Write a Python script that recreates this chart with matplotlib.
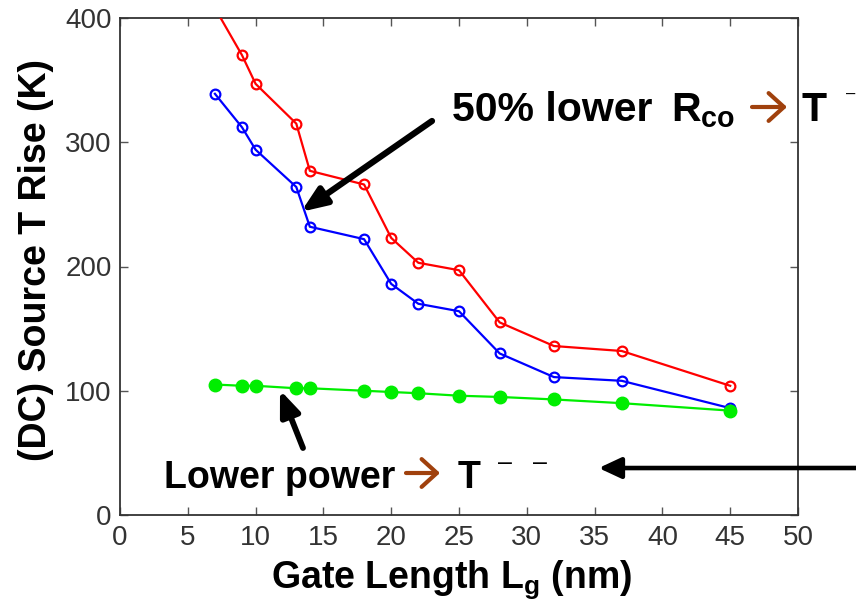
import matplotlib
matplotlib.use("Agg")
import matplotlib.pyplot as plt

# Gate lengths (nm) and source temperature rise (K)
gate_length = [7, 9, 10, 13, 14, 18, 20, 22, 25, 28, 32, 37, 45]
rise_baseline = [408, 370, 347, 315, 277, 266, 223, 203, 197, 155, 136, 132, 104]
rise_low_rco = [339, 312, 294, 264, 232, 222, 186, 170, 164, 130, 111, 108, 86]
rise_low_power = [105, 104, 104, 102, 102, 100, 99, 98, 96, 95, 93, 90, 84]

x_ticks = [0, 5, 10, 15, 20, 25, 30, 35, 40, 45, 50]
y_ticks = [0, 100, 200, 300, 400]

plt.rcParams['font.family'] = ['Liberation Sans', 'DejaVu Sans']
plt.rcParams['mathtext.default'] = 'regular'

W, H = 856, 605
fig = plt.figure(figsize=(W / 100, H / 100), dpi=100)
ax = fig.add_axes([120 / W, (H - 515) / H, 678 / W, 497 / H])


def fp(x, y):
    """Pixel position (from top-left) to figure fraction."""
    return (x / W, 1 - y / H)


ax.plot(gate_length, rise_baseline, '-o', color='#ff0000', lw=1.6,
        ms=7, mfc='none', mew=1.6, zorder=3)
ax.plot(gate_length, rise_low_rco, '-o', color='#0000ff', lw=1.6,
        ms=7, mfc='none', mew=1.6, zorder=4)
ax.plot(gate_length, rise_low_power, '-o', color='#00ee00', lw=1.6,
        ms=9, mfc='#00ee00', mec='#00ee00', zorder=5)

ax.set_xlim(0, 50)
ax.set_ylim(0, 400)
ax.set_xticks(x_ticks)
ax.set_yticks(y_ticks)
ax.tick_params(direction='in', length=6, width=1, top=True, right=True,
               color='#555555', labelcolor='#333333', labelsize=20)
ax.tick_params(axis='x', pad=7)
ax.tick_params(axis='y', pad=6)
for s in ax.spines.values():
    s.set_color('#333333')
    s.set_linewidth(1.3)

# Axis titles
fig.text(*fp(36, 260), '(DC) Source T Rise (K)', rotation=90, ha='center',
         va='center', fontsize=27, fontweight='bold')
fig.text(*fp(452, 588), r'Gate Length $\mathregular{L_g}$ (nm)', ha='center',
         va='baseline', fontsize=27, fontweight='bold')

brown = '#A0410D'

# Upper callout
fig.text(*fp(452, 121), '50% lower', ha='left',
         va='baseline', fontsize=29.5, fontweight='bold')
fig.text(*fp(671, 121), r'$\mathregular{R_{co}}$', ha='left',
         va='baseline', fontsize=29.5, fontweight='bold')
ax.annotate('', xy=fp(787, 107), xycoords='figure fraction',
            xytext=fp(752, 107), textcoords='figure fraction',
            arrowprops=dict(arrowstyle='->,head_length=0.55,head_width=0.5',
                            lw=3, color=brown, mutation_scale=20,
                            shrinkA=0, shrinkB=0))
fig.text(*fp(802, 121), 'T', ha='left', va='baseline', fontsize=29.5,
         fontweight='bold')
fig.text(*fp(846, 99), '\u2013', ha='left', va='baseline', fontsize=12)

ax.annotate('', xy=(13.35, 244), xycoords='data',
            xytext=fp(432, 121), textcoords='figure fraction',
            arrowprops=dict(arrowstyle='-|>,head_length=0.75,head_width=0.3',
                            lw=4.5, color='black', mutation_scale=20,
                            shrinkA=0, shrinkB=0))

# Lower callout
fig.text(*fp(164, 488), 'Lower power', ha='left', va='baseline',
         fontsize=27, fontweight='bold')
ax.annotate('', xy=fp(440, 473), xycoords='figure fraction',
            xytext=fp(406, 473), textcoords='figure fraction',
            arrowprops=dict(arrowstyle='->,head_length=0.55,head_width=0.5',
                            lw=3, color=brown, mutation_scale=20,
                            shrinkA=0, shrinkB=0))
fig.text(*fp(458, 488), 'T', ha='left', va='baseline', fontsize=27,
         fontweight='bold')
fig.text(*fp(498, 470), '\u2013   \u2013', ha='left', va='baseline',
         fontsize=18)

ax.annotate('', xy=(11.8, 100.6), xycoords='data',
            xytext=fp(303, 448), textcoords='figure fraction',
            arrowprops=dict(arrowstyle='-|>,head_length=0.75,head_width=0.3',
                            lw=4.2, color='black', mutation_scale=20,
                            shrinkA=0, shrinkB=0))
ax.annotate('', xy=(35.3, 37.8), xycoords='data',
            xytext=fp(880, 468), textcoords='figure fraction',
            arrowprops=dict(arrowstyle='-|>,head_length=0.75,head_width=0.35',
                            lw=3.3, color='black', mutation_scale=18,
                            shrinkA=0, shrinkB=0))

fig.savefig('out.png', dpi=100)
